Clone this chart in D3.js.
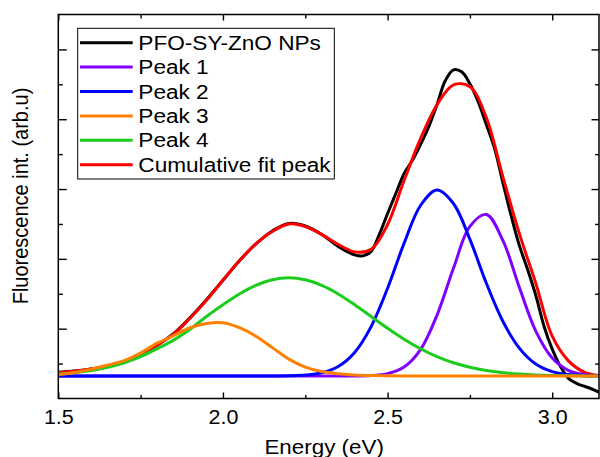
<!DOCTYPE html>
<html>
<head>
<meta charset="utf-8">
<script src="https://cdn.jsdelivr.net/npm/d3@7"></script>
<style>
  html, body { margin: 0; padding: 0; background: #fff; }
  svg { display: block; font-family: "Liberation Sans", Arial, sans-serif; }
</style>
</head>
<body>
<svg id="chart" width="600" height="457"></svg>
<script>
// Photoluminescence spectrum of PFO-SY-ZnO NPs with its four-peak deconvolution.
// Intensities in arbitrary units, fit baseline at 0.

// Measured spectrum
const dataEnergy = [1.50, 1.55, 1.60, 1.65, 1.70, 1.75, 1.80, 1.85, 1.90, 1.95, 2.00, 2.05, 2.10, 2.15, 2.20, 2.25, 2.30, 2.35, 2.40, 2.425, 2.45, 2.475, 2.50, 2.525, 2.55, 2.575, 2.60, 2.625, 2.65, 2.675, 2.70, 2.725, 2.75, 2.775, 2.80, 2.825, 2.85, 2.875, 2.90, 2.925, 2.95, 2.975, 3.00, 3.025, 3.05, 3.075, 3.10, 3.125, 3.14];
const dataIntensity = [3.8, 5.0, 7.2, 9.8, 14, 22.5, 31, 42.5, 58.5, 76.5, 96, 115.5, 132.5, 145.5, 153, 150.5, 142, 130, 121.5, 120.5, 125, 142, 163, 183, 203, 216, 232, 250, 272, 296, 307, 305, 293, 275, 252, 228, 194, 161, 131, 107, 81, 50, 27, 9.5, -2.5, -7.5, -10.5, -13.5, -16];

// Fit curves, sampled on a common energy grid
const fitEnergy = [1.50, 1.55, 1.60, 1.65, 1.70, 1.75, 1.80, 1.85, 1.90, 1.95, 2.00, 2.05, 2.10, 2.15, 2.20, 2.25, 2.30, 2.35, 2.40, 2.45, 2.50, 2.55, 2.60, 2.65, 2.70, 2.75, 2.80, 2.85, 2.90, 2.95, 3.00, 3.05, 3.10, 3.14];
const peak1 = [0, 0, 0, 0, 0, 0, 0, 0, 0, 0, 0, 0, 0, 0, 0, 0, 0, 0, 0.1, 0.5, 2.4, 9, 26.5, 61, 108, 150, 162, 136, 89, 45, 18, 5.5, 1.3, 0.4];
const peak2 = [0, 0, 0, 0, 0, 0, 0, 0, 0, 0, 0, 0, 0, 0.1, 0.3, 1, 3.3, 9.6, 23.7, 49.6, 88, 133, 171, 186.5, 173, 137, 93, 55, 28, 12, 4.5, 1.5, 0.4, 0.1];
const peak3 = [1.3, 3.5, 6.8, 11, 15.5, 23, 33, 40.5, 48.5, 52.8, 53.5, 48.5, 40, 28.5, 17, 9, 4.5, 2.3, 1.1, 0.5, 0.2, 0, 0, 0, 0, 0, 0, 0, 0, 0, 0, 0, 0, 0];
const peak4 = [2.0, 3.4, 5.5, 8.8, 13.3, 19.5, 27.4, 36, 47, 59.7, 71.5, 82.3, 90.9, 96.5, 98.5, 96.5, 90.9, 82.3, 71.5, 59.7, 47.9, 37.0, 27.4, 19.5, 13.3, 8.8, 5.5, 3.4, 2.0, 1.1, 0.6, 0.3, 0.15, 0.1];
const cumulative = [3.6, 4.8, 7.0, 9.8, 14, 22.5, 31, 42, 58, 76, 96, 115.5, 132.5, 145, 152.5, 150, 142, 132, 124.5, 127, 152, 196, 238, 272, 292, 290, 259, 200, 143, 93, 40, 15, 3.5, 0.8];

// Axis ticks
const xMajorTicks = [1.5, 2.0, 2.5, 3.0];
const xMinorTicks = [1.75, 2.25, 2.75];
const yMajorTicks = [47.5, 117.5, 187.5, 257.5, 327.5];
const yMinorTicks = [12.5, 82.5, 152.5, 222.5, 292.5];

const legendLabels = ["PFO-SY-ZnO NPs", "Peak 1", "Peak 2", "Peak 3", "Peak 4", "Cumulative fit peak"];

const colors = {
  data: "#000000",
  peak1: "#8000ff",
  peak2: "#0000ff",
  peak3: "#ff8000",
  peak4: "#1ccc1c",
  cumulative: "#ff0000"
};

const svg = d3.select("#chart");
const plot = { left: 58.3, right: 599, top: 14.5, bottom: 398.5 };

const x = d3.scaleLinear().domain([1.5, 3.142]).range([plot.left, plot.right]);
const y = d3.scaleLinear().domain([-22.5, 362.5]).range([plot.bottom, plot.top]);

svg.append("defs").append("clipPath").attr("id", "plot-clip")
  .append("rect")
  .attr("x", plot.left).attr("y", plot.top)
  .attr("width", plot.right - plot.left).attr("height", plot.bottom - plot.top);

const line = d3.line()
  .x(d => x(d[0]))
  .y(d => y(d[1]))
  .curve(d3.curveCatmullRom.alpha(0.5));

const series = [
  { key: "data", xs: dataEnergy, ys: dataIntensity },
  { key: "cumulative", xs: fitEnergy, ys: cumulative },
  { key: "peak1", xs: fitEnergy, ys: peak1 },
  { key: "peak2", xs: fitEnergy, ys: peak2 },
  { key: "peak4", xs: fitEnergy, ys: peak4 },
  { key: "peak3", xs: fitEnergy, ys: peak3 }
];

const curves = svg.append("g").attr("clip-path", "url(#plot-clip)");
series.forEach(s => {
  curves.append("path")
    .datum(d3.zip(s.xs, s.ys))
    .attr("fill", "none")
    .attr("stroke", colors[s.key])
    .attr("stroke-width", 3)
    .attr("stroke-linejoin", "round")
    .attr("stroke-linecap", "round")
    .attr("d", line);
});

// Axes: ticks point inward on all four sides
function styleAxis(g) {
  g.select(".domain").remove();
  g.selectAll(".tick line").attr("stroke", "#000").attr("stroke-width", 1.4);
}

const bottomMajor = svg.append("g")
  .attr("transform", `translate(0,${plot.bottom})`)
  .call(d3.axisBottom(x).tickValues(xMajorTicks).tickSize(-6).tickSizeOuter(0)
    .tickPadding(11.5).tickFormat(d3.format(".1f")))
  .call(styleAxis);
bottomMajor.selectAll(".tick text")
  .attr("font-size", 19.5)
  .attr("font-family", "Liberation Sans, Arial, sans-serif")
  .attr("fill", "#000")
  .attr("transform", "scale(1.1,1)");

svg.append("g")
  .attr("transform", `translate(0,${plot.bottom})`)
  .call(d3.axisBottom(x).tickValues(xMinorTicks).tickSize(-3.5).tickSizeOuter(0).tickFormat(""))
  .call(styleAxis);

svg.append("g")
  .attr("transform", `translate(0,${plot.top})`)
  .call(d3.axisTop(x).tickValues(xMajorTicks).tickSize(-6).tickSizeOuter(0).tickFormat(""))
  .call(styleAxis);
svg.append("g")
  .attr("transform", `translate(0,${plot.top})`)
  .call(d3.axisTop(x).tickValues(xMinorTicks).tickSize(-4).tickSizeOuter(0).tickFormat(""))
  .call(styleAxis);

svg.append("g")
  .attr("transform", `translate(${plot.left},0)`)
  .call(d3.axisLeft(y).tickValues(yMajorTicks).tickSize(-8.5).tickSizeOuter(0).tickFormat(""))
  .call(styleAxis);
svg.append("g")
  .attr("transform", `translate(${plot.left},0)`)
  .call(d3.axisLeft(y).tickValues(yMinorTicks).tickSize(-4.5).tickSizeOuter(0).tickFormat(""))
  .call(styleAxis);

svg.append("g")
  .attr("transform", `translate(${plot.right},0)`)
  .call(d3.axisRight(y).tickValues(yMajorTicks).tickSize(-7.5).tickSizeOuter(0).tickFormat(""))
  .call(styleAxis);
svg.append("g")
  .attr("transform", `translate(${plot.right},0)`)
  .call(d3.axisRight(y).tickValues(yMinorTicks).tickSize(-3.8).tickSizeOuter(0).tickFormat(""))
  .call(styleAxis);

// Frame
svg.append("rect")
  .attr("x", plot.left).attr("y", plot.top)
  .attr("width", plot.right - plot.left).attr("height", plot.bottom - plot.top)
  .attr("fill", "none").attr("stroke", "#000").attr("stroke-width", 1.5);

// Axis titles
svg.append("text")
  .attr("transform", `translate(${(plot.left + plot.right) / 2 - 4.5},454.3) scale(1.12,1)`)
  .attr("text-anchor", "middle")
  .attr("font-size", 20)
  .attr("fill", "#000")
  .text("Energy (eV)");

svg.append("text")
  .attr("transform", "translate(27.5,196) scale(1.12,1) rotate(-90)")
  .attr("text-anchor", "middle")
  .attr("font-size", 20)
  .attr("fill", "#000")
  .text("Fluorescence int. (arb.u)");

// Legend
const legendKeys = ["data", "peak1", "peak2", "peak3", "peak4", "cumulative"];
const legend = svg.append("g");
legend.append("rect")
  .attr("x", 77.7).attr("y", 28.3)
  .attr("width", 334.3 - 77.7).attr("height", 179 - 28.3)
  .attr("fill", "#fff").attr("stroke", "#000").attr("stroke-width", 1);

const rowY = d3.scalePoint().domain(legendKeys).range([42.7, 164.7]);
legendKeys.forEach((k, i) => {
  const cy = rowY(k);
  legend.append("line")
    .attr("x1", 80).attr("x2", 132.7)
    .attr("y1", cy).attr("y2", cy)
    .attr("stroke", colors[k]).attr("stroke-width", 3);
  legend.append("text")
    .attr("transform", `translate(138.3,${cy + 7}) scale(1.16,1)`)
    .attr("font-size", 19.5)
    .attr("fill", "#000")
    .text(legendLabels[i]);
});
</script>
</body>
</html>
